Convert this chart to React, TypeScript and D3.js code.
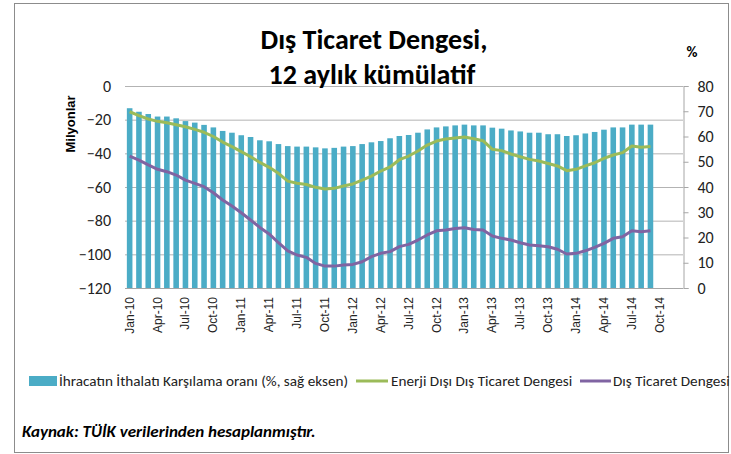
import React, { useEffect, useRef } from 'react'
import * as d3 from 'd3'

const monthNames = ['Jan', 'Feb', 'Mar', 'Apr', 'May', 'Jun', 'Jul', 'Aug', 'Sep', 'Oct', 'Nov', 'Dec']
const years = ['10', '11', '12', '13', '14']
const categories = years.flatMap(y => monthNames.map(m => `${m}-${y}`))

const tickLabels = [
  'Jan-10', 'Apr-10', 'Jul-10', 'Oct-10', 'Jan-11', 'Apr-11', 'Jul-11', 'Oct-11',
  'Jan-12', 'Apr-12', 'Jul-12', 'Oct-12', 'Jan-13', 'Apr-13', 'Jul-13', 'Oct-13',
  'Jan-14', 'Apr-14', 'Jul-14', 'Oct-14',
]

// İhracatın ithalatı karşılama oranı (%), right axis
const coverage = [
  71.2, 69.8, 68.9, 67.9, 67.9, 67.2, 66.1, 65.5, 64.6, 63.6,
  62.2, 61.5, 60.5, 59.8, 58.5, 58.1, 57.0, 56.2, 56.0, 56.0,
  55.7, 55.3, 55.5, 56.0, 56.2, 57.0, 57.7, 58.2, 59.3, 60.2,
  60.6, 61.5, 62.8, 63.6, 64.0, 64.4, 64.7, 64.4, 64.4, 63.5,
  63.1, 62.4, 62.0, 61.5, 61.5, 60.9, 60.9, 60.2, 60.5, 61.2,
  61.8, 62.7, 63.6, 63.6, 64.7, 64.7, 64.7,
]

// Enerji dışı dış ticaret dengesi (milyon), left axis
const nonEnergy = [
  -15.3, -17.6, -19.6, -21.0, -21.8, -23.0, -24.2, -25.8, -27.5, -30.0,
  -33.3, -36.0, -39.0, -42.0, -45.4, -48.3, -51.9, -56.5, -57.8, -58.5,
  -60.2, -61.2, -60.8, -59.4, -58.2, -55.9, -53.5, -50.5, -48.1, -43.8,
  -41.6, -38.6, -35.1, -32.7, -31.5, -30.9, -30.3, -31.3, -32.5, -37.6,
  -38.4, -40.4, -42.0, -43.6, -44.6, -46.0, -47.5, -50.3, -49.5, -47.5,
  -45.6, -43.0, -41.0, -39.6, -35.7, -36.4, -36.0,
]

// Dış ticaret dengesi (milyon), left axis
const tradeBalance = [
  -41.6, -44.0, -46.9, -49.5, -50.9, -52.9, -55.9, -57.8, -59.8, -63.4,
  -67.7, -71.3, -75.3, -79.6, -84.0, -87.9, -93.1, -97.9, -100.4, -101.8,
  -105.4, -107.0, -107.0, -106.4, -106.0, -104.4, -101.4, -99.4, -98.4, -95.4,
  -94.1, -91.5, -88.5, -86.0, -85.6, -84.6, -84.2, -85.2, -85.6, -89.1,
  -90.5, -91.5, -93.1, -94.5, -94.9, -95.5, -97.0, -99.8, -99.4, -97.9,
  -95.9, -93.5, -90.5, -89.5, -86.0, -86.6, -86.0,
]

const leftTicks = [0, -20, -40, -60, -80, -100, -120]
const rightTicks = [0, 10, 20, 30, 40, 50, 60, 70, 80]

const seriesNames = [
  'İhracatın İthalatı Karşılama oranı (%, sağ eksen)',
  'Enerji Dışı Dış Ticaret Dengesi',
  'Dış Ticaret Dengesi',
]

const BAR = '#4bacc6'
const GREEN = '#9bbb59'
const PURPLE = '#8064a2'
const FONT = 'Carlito, Lato, sans-serif'
const ARIAL = '"Liberation Sans", Arial, sans-serif'

export default function App() {
  const svgRef = useRef<SVGSVGElement>(null)

  useEffect(() => {
    if (!svgRef.current) return
    const svg = d3.select(svgRef.current)
    svg.selectAll('*').remove()

    const plot = { left: 125, right: 683, top: 86, bottom: 288 }

    // outer frame
    svg.append('rect')
      .attr('x', 14.5).attr('y', 3.5)
      .attr('width', 714).attr('height', 449)
      .attr('fill', '#fff').attr('stroke', '#8c8c8c')

    const x = d3.scaleBand<string>()
      .domain(categories)
      .range([plot.left, plot.right])
    const yL = d3.scaleLinear().domain([-120, 0]).range([plot.bottom, plot.top])
    const yR = d3.scaleLinear().domain([0, 80]).range([plot.bottom, plot.top])
    const step = x.bandwidth()
    const cx = (i: number) => (x(categories[i]) as number) + step / 2

    // gridlines
    svg.append('g').selectAll('line')
      .data(leftTicks.filter(t => t !== -120))
      .enter().append('line')
      .attr('x1', plot.left).attr('x2', plot.right)
      .attr('y1', d => yL(d) + 0.5).attr('y2', d => yL(d) + 0.5)
      .attr('stroke', '#b3b3b3')

    // bars
    svg.append('g').selectAll('rect')
      .data(coverage)
      .enter().append('rect')
      .attr('x', (d, i) => cx(i) - step * 0.3)
      .attr('width', step * 0.6)
      .attr('y', d => yR(d))
      .attr('height', d => yR(0) - yR(d))
      .attr('fill', BAR)

    // x axis line
    svg.append('line')
      .attr('x1', plot.left).attr('x2', plot.right)
      .attr('y1', plot.bottom + 0.5).attr('y2', plot.bottom + 0.5)
      .attr('stroke', '#a6a6a6')

    // right axis
    svg.append('g')
      .attr('transform', `translate(${plot.right + 0.5},0)`)
      .call(d3.axisRight(yR).tickValues(rightTicks).tickSize(5).tickPadding(9))
      .call(g => g.selectAll('.domain').attr('stroke', '#a6a6a6'))
      .call(g => g.selectAll('.tick line').attr('stroke', '#a6a6a6'))
      .call(g => g.selectAll('text')
        .attr('fill', '#222').style('font-size', '16px').style('font-family', FONT))

    // left axis labels
    svg.append('g')
      .attr('transform', `translate(${plot.left},0)`)
      .call(d3.axisLeft(yL).tickValues(leftTicks).tickSize(0).tickPadding(14))
      .call(g => g.select('.domain').remove())
      .call(g => g.selectAll('text')
        .attr('fill', '#222').style('font-size', '16px').style('font-family', FONT))

    // category labels
    svg.append('g').selectAll('text')
      .data(tickLabels)
      .enter().append('text')
      .attr('transform', d => `translate(${cx(categories.indexOf(d)) + 4},${plot.bottom + 9}) rotate(-90)`)
      .attr('text-anchor', 'end')
      .style('font-family', ARIAL)
      .style('font-size', '12px')
      .attr('fill', '#222')
      .text(d => d)

    // lines
    const line = d3.line<number>()
      .x((d, i) => cx(i))
      .y(d => yL(d))

    svg.append('path')
      .datum(nonEnergy)
      .attr('d', line)
      .attr('fill', 'none').attr('stroke', GREEN).attr('stroke-width', 3)
      .attr('stroke-linejoin', 'round')

    svg.append('path')
      .datum(tradeBalance)
      .attr('d', line)
      .attr('fill', 'none').attr('stroke', PURPLE).attr('stroke-width', 3)
      .attr('stroke-linejoin', 'round')

    // title
    const title = svg.append('text')
      .attr('text-anchor', 'middle')
      .style('font-family', FONT).style('font-weight', 'bold').style('font-size', '28px')
      .attr('fill', '#000')
    title.append('tspan').attr('x', 374).attr('y', 49).text('Dış Ticaret Dengesi,')
    title.append('tspan').attr('x', 372).attr('y', 84).text('12 aylık kümülatif')

    // axis titles
    svg.append('text')
      .attr('transform', 'translate(75,124) rotate(-90)')
      .attr('text-anchor', 'middle')
      .style('font-family', ARIAL)
      .style('font-weight', 'bold').style('font-size', '13px')
      .text('Milyonlar')

    svg.append('text')
      .attr('x', 692).attr('y', 57)
      .attr('text-anchor', 'middle')
      .style('font-family', FONT).style('font-weight', 'bold').style('font-size', '15px')
      .text('%')

    // legend
    const legend = svg.append('g').attr('transform', 'translate(0,381)')
    const lx = [29, 356, 580]
    legend.append('rect')
      .attr('x', lx[0]).attr('y', -5).attr('width', 28).attr('height', 10)
      .attr('fill', BAR)
    legend.append('line')
      .attr('x1', lx[1]).attr('x2', lx[1] + 32).attr('y1', 0).attr('y2', 0)
      .attr('stroke', GREEN).attr('stroke-width', 3)
    legend.append('line')
      .attr('x1', lx[2]).attr('x2', lx[2] + 31).attr('y1', 0).attr('y2', 0)
      .attr('stroke', PURPLE).attr('stroke-width', 3)
    const textX = [59, 391, 613]
    legend.selectAll('text.lg')
      .data(seriesNames)
      .enter().append('text')
      .attr('class', 'lg')
      .attr('x', (d, i) => textX[i])
      .attr('y', 0)
      .attr('dy', '0.35em')
      .style('font-family', FONT).style('font-size', '15.2px')
      .attr('fill', '#222')
      .text(d => d)

    // source note
    svg.append('text')
      .attr('x', 22).attr('y', 437)
      .style('font-family', FONT).style('font-weight', 'bold').style('font-style', 'italic')
      .style('font-size', '17px')
      .text('Kaynak: TÜİK verilerinden hesaplanmıştır.')
  }, [])

  return (
    <div>
      <style>{'body{margin:0}'}</style>
      <svg ref={svgRef} width={731} height={454} style={{ display: 'block' }} />
    </div>
  )
}
